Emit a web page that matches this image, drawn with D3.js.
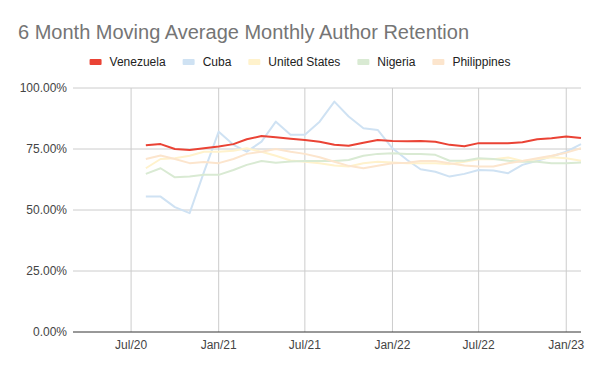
<!DOCTYPE html>
<html>
<head>
<meta charset="utf-8">
<script src="https://cdn.jsdelivr.net/npm/d3@7"></script>
<style>
  body { margin: 0; background: #fff; }
  svg { font-family: Arial, "Liberation Sans", sans-serif; }
</style>
</head>
<body>
<div id="chart"></div>
<script>
// data: monthly points, Aug 2020 .. Feb 2023 (values in %)
const months = ["2020-08","2020-09","2020-10","2020-11","2020-12",
  "2021-01","2021-02","2021-03","2021-04","2021-05","2021-06","2021-07","2021-08","2021-09","2021-10","2021-11","2021-12",
  "2022-01","2022-02","2022-03","2022-04","2022-05","2022-06","2022-07","2022-08","2022-09","2022-10","2022-11","2022-12",
  "2023-01","2023-02"];

const venezuela = [76.5,77.0,75.0,74.6,75.3,76.0,77.0,79.0,80.3,79.8,79.2,78.7,78.0,76.7,76.3,77.6,78.7,
  78.3,78.2,78.3,78.0,76.7,76.1,77.4,77.4,77.4,77.8,79.0,79.4,80.1,79.5];
const cuba = [55.5,55.5,51.2,48.7,65.5,82.1,76.7,73.9,78.0,86.2,80.8,80.8,86.2,94.4,88.3,83.5,82.8,
  75.3,70.5,66.7,65.7,63.7,64.8,66.4,66.2,65.1,68.5,70.2,71.9,73.9,77.0];
const unitedStates = [67.1,70.9,71.2,72.2,73.9,73.9,74.3,75.3,73.9,72.2,70.3,69.8,69.2,68.2,67.8,69.2,69.8,
  69.5,69.2,69.2,69.2,68.8,69.8,70.8,70.8,71.5,70.1,70.8,71.6,71.2,70.2];
const nigeria = [64.8,67.1,63.4,63.7,64.4,64.4,66.4,68.5,70.1,69.4,69.9,70.1,70.1,70.1,70.5,72.2,73.0,
  73.3,73.0,73.0,72.6,70.2,70.2,71.2,70.9,70.2,69.8,69.8,69.2,69.2,69.5];
const philippines = [70.9,72.3,70.9,69.2,69.7,69.2,70.9,73.0,73.9,75.0,73.9,73.0,71.6,69.8,68.1,67.1,68.1,
  69.2,69.4,70.1,70.1,69.2,68.2,67.8,67.8,69.2,70.1,71.2,72.2,73.5,75.3];

const seriesNames = ["Venezuela","Cuba","United States","Nigeria","Philippines"];
const seriesValues = [venezuela, cuba, unitedStates, nigeria, philippines];
const seriesColors = ["#ea4335","#cfe2f3","#fff2cc","#d9ead3","#fce5cd"];

const yTicks = [0, 25, 50, 75, 100];
const xTickDates = ["2020-07","2021-01","2021-07","2022-01","2022-07","2023-01"];
const xDomain = ["2020-03","2023-02"];

// layout
const W = 600, H = 371;
const margin = { top: 88, right: 19, bottom: 39, left: 73 };
const width = W - margin.left - margin.right,
      height = H - margin.top - margin.bottom;

const parse = d3.timeParse("%Y-%m");

const svg = d3.select("#chart").append("svg")
    .attr("width", W)
    .attr("height", H);

// title
svg.append("text")
    .attr("x", 18)
    .attr("y", 39)
    .style("font-size", "20px")
    .style("fill", "#757575")
    .text("6 Month Moving Average Monthly Author Retention");

// legend
const legend = svg.append("g").attr("class", "legend");
let lx = 0;
seriesNames.forEach((name, i) => {
    const g = legend.append("g").attr("transform", `translate(${lx},0)`);
    g.append("rect")
        .attr("x", 0).attr("y", -3)
        .attr("width", 12).attr("height", 6)
        .attr("rx", 1)
        .style("fill", seriesColors[i]);
    const t = g.append("text")
        .attr("x", 20).attr("y", 4)
        .style("font-size", "12px")
        .style("fill", "#222")
        .text(name);
    lx += 20 + t.node().getComputedTextLength() + 17;
});
lx -= 17;
legend.attr("transform", `translate(${(W - lx) / 2},62)`);

const plot = svg.append("g")
    .attr("transform", `translate(${margin.left},${margin.top})`);

// scales
const x = d3.scaleTime()
    .domain(xDomain.map(parse))
    .range([0, width]);
const y = d3.scaleLinear()
    .domain([0, 100])
    .range([height, 0]);

// gridlines
plot.append("g")
    .selectAll("line")
    .data(yTicks.filter(d => d > 0))
    .enter().append("line")
    .attr("x1", 0).attr("x2", width)
    .attr("y1", d => y(d)).attr("y2", d => y(d))
    .style("stroke", "#cccccc");

plot.append("g")
    .selectAll("line")
    .data(xTickDates.map(parse))
    .enter().append("line")
    .attr("x1", d => x(d)).attr("x2", d => x(d))
    .attr("y1", 0).attr("y2", height)
    .style("stroke", "#cccccc");

// y labels
plot.append("g")
    .selectAll("text")
    .data(yTicks)
    .enter().append("text")
    .attr("x", -6)
    .attr("y", d => y(d) + 4)
    .attr("text-anchor", "end")
    .style("font-size", "12px")
    .style("fill", "#444")
    .text(d => d3.format(".2f")(d) + "%");

// x labels
const fmt = d3.timeFormat("%b/%y");
plot.append("g")
    .selectAll("text")
    .data(xTickDates.map(parse))
    .enter().append("text")
    .attr("x", d => x(d))
    .attr("y", height + 17)
    .attr("text-anchor", "middle")
    .style("font-size", "12px")
    .style("fill", "#444")
    .text(d => fmt(d));

// lines (Venezuela drawn last so it sits on top)
const line = d3.line()
    .x(d => x(d.date))
    .y(d => y(d.value));

const order = [1, 2, 3, 4, 0];
order.forEach(i => {
    const pts = months.map((m, j) => ({ date: parse(m), value: seriesValues[i][j] }));
    plot.append("path")
        .datum(pts)
        .attr("d", line)
        .style("fill", "none")
        .style("stroke", seriesColors[i])
        .style("stroke-width", 2)
        .style("stroke-linejoin", "round");
});

// baseline
plot.append("line")
    .attr("x1", 0).attr("x2", width)
    .attr("y1", y(0)).attr("y2", y(0))
    .style("stroke", "#333");
</script>
</body>
</html>
